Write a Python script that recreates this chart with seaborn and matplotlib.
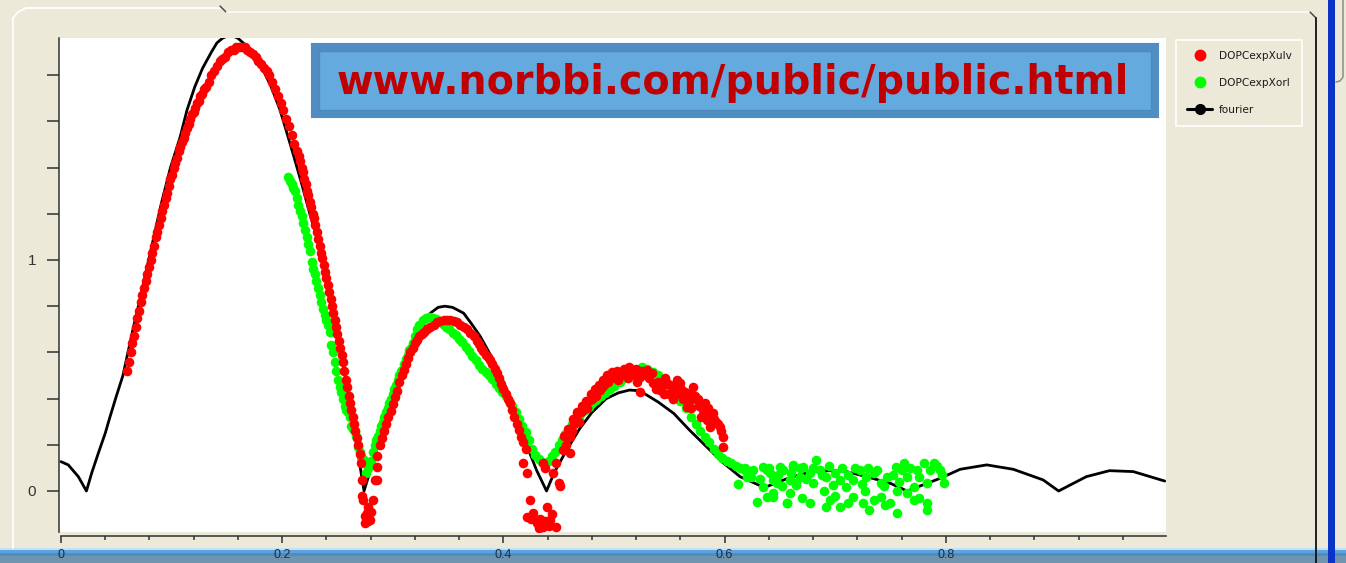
import matplotlib
matplotlib.use("Agg")
import matplotlib.pyplot as plt
import seaborn as sns
from matplotlib.patches import Rectangle
from matplotlib.lines import Line2D

# ---------------- data ----------------
# model curve (fourier), (q, amplitude)
fourier_pts = [
    (0.000, 0.127), (0.0066, 0.113), (0.0157, 0.062), (0.023, 0.0), (0.0277, 0.077),
    (0.0337, 0.163), (0.040, 0.25), (0.044, 0.316), (0.050, 0.41), (0.056, 0.50),
    (0.061, 0.61), (0.066, 0.72), (0.071, 0.82), (0.076, 0.93), (0.083, 1.08),
    (0.091, 1.25), (0.099, 1.40), (0.1076, 1.53), (0.114, 1.65), (0.121, 1.75),
    (0.128, 1.83), (0.136, 1.90), (0.141, 1.94), (0.146, 1.96), (0.153, 1.975),
    (0.160, 1.96), (0.167, 1.93), (0.175, 1.89), (0.183, 1.82), (0.190, 1.75),
    (0.198, 1.65), (0.2055, 1.53), (0.211, 1.44), (0.2176, 1.33), (0.225, 1.20),
    (0.233, 1.07), (0.241, 0.92), (0.248, 0.755), (0.254, 0.58), (0.260, 0.41),
    (0.265, 0.27), (0.269, 0.15), (0.274, 0.0), (0.281, 0.11), (0.288, 0.22),
    (0.298, 0.37), (0.310, 0.54), (0.322, 0.67), (0.334, 0.77), (0.341, 0.795),
    (0.347, 0.80), (0.354, 0.795), (0.364, 0.77), (0.371, 0.725), (0.379, 0.67),
    (0.394, 0.54), (0.403, 0.44), (0.418, 0.235), (0.430, 0.09), (0.439, 0.0),
    (0.446, 0.08), (0.454, 0.15), (0.462, 0.215), (0.469, 0.27), (0.480, 0.34),
    (0.493, 0.40), (0.504, 0.425), (0.514, 0.437), (0.520, 0.435), (0.527, 0.423),
    (0.540, 0.385), (0.554, 0.336), (0.568, 0.265), (0.584, 0.19), (0.598, 0.125),
    (0.614, 0.062), (0.636, 0.015), (0.660, 0.06), (0.680, 0.085), (0.697, 0.088),
    (0.710, 0.084), (0.730, 0.06), (0.750, 0.033), (0.765, 0.0), (0.795, 0.055),
    (0.813, 0.094), (0.837, 0.113), (0.861, 0.094), (0.888, 0.048), (0.902, 0.0),
    (0.927, 0.062), (0.948, 0.088), (0.9695, 0.084), (0.998, 0.043),
]

# DOPCexpXulv measurements
ulv_rise = [
    (0.0600, 0.52), (0.0615, 0.56), (0.0630, 0.60), (0.0645, 0.64), (0.0660, 0.67),
    (0.0675, 0.71), (0.0690, 0.75), (0.0705, 0.78), (0.0720, 0.82), (0.0735, 0.85),
    (0.0750, 0.88), (0.0765, 0.91), (0.0780, 0.94), (0.0795, 0.97), (0.0810, 1.00),
    (0.0825, 1.03), (0.0840, 1.06), (0.0855, 1.10), (0.0870, 1.12), (0.0885, 1.15),
    (0.0900, 1.18), (0.0915, 1.21), (0.0930, 1.24), (0.0945, 1.27), (0.0960, 1.29),
    (0.0975, 1.32), (0.0990, 1.35), (0.1005, 1.37), (0.1020, 1.40), (0.1035, 1.42),
    (0.1050, 1.44), (0.1065, 1.47), (0.1080, 1.49), (0.1095, 1.51), (0.1110, 1.53),
    (0.1125, 1.55), (0.1140, 1.57), (0.1155, 1.59), (0.1170, 1.61), (0.1185, 1.63),
    (0.1200, 1.64), (0.1215, 1.66), (0.1230, 1.68), (0.1245, 1.69), (0.1260, 1.71),
    (0.1275, 1.72), (0.1290, 1.74),
]
ulv_peak = [
    (0.1310, 1.75), (0.1335, 1.77), (0.1360, 1.80), (0.1385, 1.82), (0.1410, 1.84),
    (0.1435, 1.86), (0.1460, 1.87), (0.1485, 1.88), (0.1510, 1.90), (0.1535, 1.91),
    (0.1560, 1.91), (0.1585, 1.92), (0.1610, 1.92), (0.1635, 1.92), (0.1660, 1.92),
    (0.1685, 1.91), (0.1710, 1.90), (0.1735, 1.89), (0.1760, 1.88), (0.1785, 1.86),
    (0.1810, 1.85), (0.1835, 1.83), (0.1860, 1.82), (0.1885, 1.80), (0.1910, 1.77),
    (0.1935, 1.74), (0.1960, 1.71), (0.1985, 1.68), (0.2010, 1.65), (0.2035, 1.61),
    (0.2060, 1.58), (0.2085, 1.54), (0.2110, 1.50), (0.2135, 1.47),
]
ulv_fall = [
    (0.2150, 1.45), (0.21625, 1.43), (0.2175, 1.40), (0.21875, 1.38), (0.2200, 1.35),
    (0.22125, 1.33), (0.2225, 1.30), (0.22375, 1.28), (0.2250, 1.25), (0.22625, 1.23),
    (0.2275, 1.20), (0.22875, 1.18), (0.2300, 1.15), (0.23125, 1.12), (0.2325, 1.09),
    (0.23375, 1.06), (0.2350, 1.03), (0.23625, 1.01), (0.2375, 0.98), (0.23875, 0.95),
    (0.2400, 0.92), (0.24125, 0.89), (0.2425, 0.86), (0.24375, 0.83), (0.2450, 0.80),
    (0.24625, 0.77), (0.2475, 0.74), (0.24875, 0.71), (0.2500, 0.68), (0.25125, 0.65),
    (0.2525, 0.62), (0.25375, 0.59), (0.2550, 0.56), (0.25625, 0.52), (0.2575, 0.48),
    (0.25875, 0.45), (0.2600, 0.41), (0.26125, 0.38), (0.2625, 0.35), (0.26375, 0.32),
    (0.2650, 0.29), (0.26625, 0.26), (0.2675, 0.23), (0.26875, 0.20), (0.2700, 0.16),
    (0.2710, 0.12),
]
ulv_min1 = [
    (0.2719, 0.048), (0.2720, -0.02), (0.2733, -0.039), (0.2750, -0.11), (0.2764, -0.097),
    (0.2775, -0.07), (0.2780, -0.13), (0.2794, -0.126), (0.2800, -0.09), (0.2824, -0.039),
    (0.2840, 0.048), (0.2854, 0.105), (0.2854, 0.048), (0.2745, -0.14),
]
ulv_lobe2 = [
    (0.286, 0.15), (0.288, 0.20), (0.290, 0.23), (0.292, 0.26), (0.294, 0.29),
    (0.296, 0.32), (0.298, 0.345), (0.300, 0.375), (0.302, 0.405), (0.304, 0.435),
    (0.306, 0.47), (0.308, 0.50), (0.310, 0.525), (0.312, 0.55), (0.314, 0.575),
    (0.316, 0.60), (0.318, 0.62), (0.320, 0.64), (0.322, 0.655), (0.324, 0.67),
    (0.326, 0.68), (0.328, 0.69), (0.331, 0.70), (0.334, 0.71), (0.337, 0.72),
    (0.340, 0.73), (0.343, 0.735), (0.346, 0.74), (0.349, 0.74), (0.352, 0.74),
    (0.355, 0.735), (0.358, 0.73), (0.361, 0.72), (0.364, 0.71), (0.367, 0.70),
    (0.370, 0.685), (0.373, 0.67), (0.376, 0.65), (0.378, 0.635), (0.380, 0.62),
    (0.382, 0.605), (0.384, 0.59), (0.386, 0.58), (0.388, 0.565), (0.390, 0.55),
    (0.392, 0.53), (0.394, 0.51), (0.396, 0.49), (0.398, 0.465), (0.400, 0.44),
    (0.402, 0.42), (0.404, 0.40), (0.406, 0.38), (0.408, 0.35), (0.410, 0.32),
    (0.412, 0.29), (0.414, 0.265), (0.416, 0.235), (0.418, 0.21), (0.420, 0.18),
]
ulv_min2 = [
    (0.418, 0.12), (0.421, 0.077), (0.424, -0.039), (0.421, -0.111), (0.425, -0.12),
    (0.427, -0.097), (0.430, -0.14), (0.432, -0.16), (0.433, -0.12), (0.436, -0.155),
    (0.438, -0.13), (0.439, -0.068), (0.441, -0.15), (0.442, -0.126), (0.444, -0.10),
    (0.448, -0.155), (0.436, 0.12), (0.4376, 0.10), (0.445, 0.077), (0.450, 0.033),
    (0.451, 0.02), (0.448, 0.12), (0.454, 0.177), (0.460, 0.163),
]
ulv_lobe3 = [
    (0.457, 0.20), (0.460, 0.235), (0.462, 0.26), (0.464, 0.29), (0.466, 0.32),
    (0.468, 0.30), (0.470, 0.34), (0.472, 0.35), (0.474, 0.37), (0.476, 0.36),
    (0.478, 0.394), (0.480, 0.40), (0.482, 0.42), (0.484, 0.41), (0.487, 0.437),
    (0.489, 0.45), (0.491, 0.46), (0.493, 0.48), (0.495, 0.47), (0.497, 0.49),
    (0.500, 0.50), (0.502, 0.495), (0.504, 0.48), (0.506, 0.51), (0.508, 0.50),
    (0.511, 0.51), (0.513, 0.49), (0.515, 0.52), (0.517, 0.524), (0.519, 0.50),
    (0.521, 0.47), (0.5235, 0.495), (0.5235, 0.43), (0.526, 0.51), (0.5295, 0.524),
    (0.532, 0.49), (0.5355, 0.466), (0.538, 0.44), (0.5416, 0.437), (0.544, 0.46),
    (0.5476, 0.466), (0.550, 0.42), (0.5537, 0.437), (0.556, 0.45), (0.5597, 0.466),
    (0.562, 0.40), (0.5657, 0.365), (0.568, 0.39), (0.5717, 0.45), (0.5747, 0.394),
    (0.577, 0.37), (0.5808, 0.35), (0.5838, 0.307), (0.586, 0.33), (0.587, 0.278),
    (0.5898, 0.336), (0.592, 0.30), (0.5958, 0.278), (0.5988, 0.235), (0.5988, 0.19),
    (0.597, 0.26), (0.560, 0.42), (0.553, 0.40), (0.545, 0.42), (0.566, 0.41),
    (0.570, 0.36), (0.579, 0.32),
    (0.455, 0.24), (0.458, 0.27), (0.463, 0.31), (0.467, 0.34), (0.471, 0.37),
    (0.475, 0.39), (0.479, 0.42), (0.483, 0.44), (0.486, 0.46), (0.490, 0.48),
    (0.494, 0.50), (0.498, 0.515), (0.503, 0.52), (0.509, 0.53), (0.514, 0.535),
    (0.520, 0.53), (0.525, 0.52), (0.531, 0.50), (0.534, 0.51), (0.540, 0.47),
    (0.546, 0.49), (0.551, 0.46), (0.557, 0.48), (0.561, 0.44), (0.564, 0.43),
    (0.569, 0.42), (0.573, 0.41), (0.576, 0.40), (0.582, 0.38), (0.585, 0.36),
    (0.590, 0.31), (0.594, 0.29),
]

# DOPCexpXorl measurements
orl_band = [
    (0.2055, 1.36), (0.2070, 1.34), (0.2085, 1.33), (0.2100, 1.31), (0.2115, 1.30),
    (0.2130, 1.27), (0.2145, 1.24), (0.2160, 1.21), (0.2175, 1.19), (0.2190, 1.16),
    (0.2205, 1.13), (0.2220, 1.10), (0.2235, 1.07), (0.2250, 1.04), (0.2265, 0.99),
    (0.2280, 0.96), (0.2295, 0.94), (0.2310, 0.91), (0.2325, 0.88), (0.2340, 0.85),
    (0.2355, 0.82), (0.2370, 0.79), (0.2385, 0.76), (0.2400, 0.74), (0.2415, 0.72),
    (0.2430, 0.69), (0.2445, 0.63), (0.2460, 0.60), (0.2475, 0.56), (0.2490, 0.52),
    (0.2505, 0.48), (0.2520, 0.45), (0.2535, 0.43), (0.2550, 0.40), (0.2565, 0.37),
    (0.2580, 0.35), (0.2595, 0.34), (0.2610, 0.32), (0.2625, 0.28), (0.2640, 0.27),
    (0.2655, 0.26), (0.2670, 0.24), (0.2685, 0.19), (0.2700, 0.17), (0.2715, 0.15),
    (0.2730, 0.14), (0.2745, 0.13), (0.2760, 0.08), (0.2775, 0.10), (0.2790, 0.12),
    (0.2805, 0.13), (0.2820, 0.17), (0.2835, 0.20), (0.2850, 0.22), (0.2865, 0.24),
    (0.2880, 0.26), (0.2895, 0.28), (0.2910, 0.30), (0.2925, 0.32), (0.2940, 0.34),
    (0.2955, 0.36), (0.2970, 0.38), (0.2985, 0.40), (0.3000, 0.42), (0.3015, 0.44),
    (0.3030, 0.46), (0.3045, 0.48), (0.3060, 0.50), (0.3075, 0.52), (0.3090, 0.53),
    (0.3105, 0.55), (0.3120, 0.57), (0.3135, 0.59), (0.3150, 0.61), (0.3165, 0.62),
    (0.3180, 0.64), (0.3200, 0.67), (0.3220, 0.70), (0.3240, 0.72), (0.3270, 0.74),
    (0.3300, 0.75), (0.3330, 0.755), (0.3360, 0.75), (0.3390, 0.745), (0.3420, 0.735),
    (0.3450, 0.725), (0.3480, 0.71), (0.3510, 0.70), (0.3540, 0.685), (0.3570, 0.675),
    (0.3600, 0.66), (0.3630, 0.645), (0.3660, 0.625), (0.3690, 0.605), (0.3720, 0.585),
    (0.3750, 0.565), (0.3780, 0.545), (0.3810, 0.53), (0.3840, 0.515), (0.3870, 0.50),
    (0.3900, 0.485), (0.3930, 0.465), (0.3960, 0.445), (0.3990, 0.43), (0.4020, 0.41),
    (0.4050, 0.39), (0.4080, 0.37), (0.4110, 0.34), (0.4140, 0.31), (0.4170, 0.28),
    (0.4200, 0.255), (0.4230, 0.22), (0.4260, 0.18), (0.4290, 0.155), (0.4320, 0.14),
    (0.4350, 0.125), (0.4380, 0.12), (0.4410, 0.13), (0.4440, 0.15), (0.4470, 0.17),
    (0.4500, 0.20), (0.4530, 0.22), (0.4560, 0.245), (0.4590, 0.27), (0.4620, 0.29),
    (0.4650, 0.30), (0.4680, 0.32), (0.4710, 0.34), (0.4740, 0.35), (0.4770, 0.365),
    (0.4800, 0.38), (0.4840, 0.395), (0.4880, 0.41), (0.4920, 0.425), (0.4960, 0.44),
    (0.5000, 0.455), (0.5050, 0.47), (0.5100, 0.49), (0.5150, 0.51), (0.5200, 0.525),
    (0.5250, 0.535), (0.5300, 0.53), (0.5350, 0.515), (0.5400, 0.50), (0.5450, 0.47),
    (0.5500, 0.44), (0.5550, 0.42), (0.5600, 0.39), (0.5650, 0.36), (0.5700, 0.32),
    (0.5740, 0.29), (0.5780, 0.26), (0.5820, 0.235), (0.5860, 0.21), (0.5900, 0.18),
    (0.5940, 0.16), (0.5980, 0.145), (0.6020, 0.13), (0.6060, 0.12), (0.6100, 0.11),
    (0.6140, 0.10), (0.6180, 0.09), (0.6220, 0.085),
]
orl_tail = [
    (0.620, 0.062), (0.626, 0.09), (0.629, -0.046), (0.638, 0.09), (0.644, -0.01),
    (0.644, 0.048), (0.650, 0.105), (0.656, -0.053), (0.662, 0.105), (0.665, 0.033),
    (0.635, 0.105), (0.641, 0.077), (0.647, 0.033), (0.638, -0.025), (0.644, -0.025),
    (0.653, 0.091), (0.659, 0.048), (0.662, 0.113), (0.668, 0.062), (0.665, 0.026),
    (0.671, 0.105), (0.677, 0.077), (0.683, 0.134), (0.680, 0.033), (0.686, 0.091),
    (0.692, 0.062), (0.698, 0.026), (0.704, 0.048), (0.710, 0.019), (0.716, 0.048),
    (0.722, 0.091), (0.728, 0.062), (0.735, 0.077), (0.741, 0.033), (0.747, 0.062),
    (0.755, 0.105), (0.762, 0.12), (0.765, 0.062), (0.774, 0.091), (0.780, 0.12),
    (0.789, 0.12), (0.795, 0.091), (0.798, 0.033), (0.783, 0.033), (0.771, 0.019),
    (0.656, -0.053), (0.677, -0.053), (0.695, -0.039), (0.704, -0.068), (0.716, -0.025),
    (0.725, -0.053), (0.735, -0.039), (0.741, -0.025), (0.750, -0.053), (0.756, -0.097),
    (0.771, -0.039), (0.783, -0.053), (0.783, -0.082), (0.731, -0.082), (0.692, -0.068),
    (0.659, -0.010), (0.635, 0.019),
    (0.612, 0.03), (0.618, 0.10), (0.624, 0.06), (0.632, 0.05), (0.640, 0.10),
    (0.648, 0.07), (0.652, 0.02), (0.660, 0.08), (0.668, 0.10), (0.674, 0.05),
    (0.680, 0.10), (0.688, 0.07), (0.694, 0.11), (0.700, 0.08), (0.706, 0.10),
    (0.712, 0.07), (0.718, 0.10), (0.724, 0.03), (0.730, 0.10), (0.738, 0.09),
    (0.744, 0.02), (0.752, 0.07), (0.758, 0.04), (0.760, 0.09), (0.768, 0.10),
    (0.776, 0.06), (0.786, 0.09), (0.792, 0.11), (0.797, 0.07), (0.700, -0.02),
    (0.712, -0.05), (0.745, -0.06), (0.765, -0.01), (0.727, 0.00), (0.690, 0.00),
    (0.670, -0.03), (0.756, 0.00), (0.776, -0.03),
]

ulv_pts = ulv_rise + ulv_peak + ulv_fall + ulv_min1 + ulv_lobe2 + ulv_min2 + ulv_lobe3
orl_pts = orl_band + orl_tail

x_ticks = [0, 0.2, 0.4, 0.6, 0.8]
x_tick_labels = ["0", "0.2", "0.4", "0.6", "0.8"]
y_ticks = [0, 1]
y_tick_labels = ["0", "1"]

series_labels = ["DOPCexpXulv", "DOPCexpXorl", "fourier"]
banner_text = "www.norbbi.com/public/public.html"

# ---------------- styling ----------------
W, H = 1346, 563
BG = "#ECE9D8"
RED = "#FF0000"
GREEN = "#00FF00"

sns.set_theme(style="white")
plt.rcParams["font.family"] = ["Liberation Sans", "DejaVu Sans"]


def fx(x):
    return x / W


def fy(y):
    return 1 - y / H


fig = plt.figure(figsize=(W / 100, H / 100), dpi=100, facecolor=BG)
ax = fig.add_axes([fx(59), fy(532), (1166 - 59) / W, (532 - 38) / H])
ax.set_facecolor("white")

fq, famp = zip(*fourier_pts)
ux, uy = zip(*ulv_pts)
ox, oy = zip(*orl_pts)

sns.lineplot(x=list(fq), y=list(famp), ax=ax, color="black", lw=2.0,
             sort=False, estimator=None, legend=False, zorder=2)
sns.scatterplot(x=list(ox), y=list(oy), ax=ax, color=GREEN, s=48, linewidth=0,
                legend=False, zorder=3)
sns.scatterplot(x=list(ux), y=list(uy), ax=ax, color=RED, s=48, linewidth=0,
                legend=False, zorder=4)

ax.set_xlim(-0.0018, 0.9991)
ax.set_ylim(-0.1775, 1.961)
ax.set_xlabel("")
ax.set_ylabel("")

for side in ("top", "right"):
    ax.spines[side].set_visible(False)
ax.spines["left"].set_color("#303030")
ax.spines["left"].set_linewidth(1.1)
ax.spines["bottom"].set_color("#303030")
ax.spines["bottom"].set_linewidth(1.1)
ax.spines["bottom"].set_position(("outward", 3))
ax.spines["bottom"].set_bounds(0, 0.999)

ax.set_xticks(x_ticks)
ax.set_xticklabels(x_tick_labels)
ax.set_xticks([0.04, 0.08, 0.12, 0.16, 0.24, 0.28, 0.32, 0.36, 0.44, 0.48, 0.52,
               0.56, 0.64, 0.68, 0.72, 0.76, 0.84, 0.88, 0.92, 0.96], minor=True)
ax.set_yticks(y_ticks)
ax.set_yticklabels(y_tick_labels)
ax.set_yticks([0.2, 0.4, 0.6, 0.8, 1.2, 1.4, 1.6, 1.8], minor=True)

ax.tick_params(axis="y", which="both", direction="out", length=8.6, width=1.1,
               color="#303030", pad=8, labelsize=11, labelcolor="#333333", left=True)
ax.tick_params(axis="x", which="major", direction="out", length=5, width=1.1,
               color="#303030", pad=4.5, labelsize=9, labelcolor="#1E2C3A", bottom=True)
ax.tick_params(axis="x", which="minor", direction="out", length=3, width=1.1,
               color="#303030", bottom=True)
ax.grid(False)


def rect(x0, y0, x1, y1, **kw):
    r = Rectangle((fx(x0), fy(y1)), (x1 - x0) / W, (y1 - y0) / H,
                  transform=fig.transFigure, **kw)
    fig.add_artist(r)
    return r


def line(xs, ys, **kw):
    fig.add_artist(Line2D([fx(v) for v in xs], [fy(v) for v in ys],
                          transform=fig.transFigure, **kw))


# window chrome: panel border, scrollbar edge, status strip
line([13, 13, 18, 26, 220], [548, 18, 12, 8, 8], color="white", lw=1.3, zorder=1)
line([220, 226], [6, 12], color="#404040", lw=1.0, zorder=1)
line([227, 1310], [12, 12], color="#FAFAF6", lw=1.3, zorder=1)
line([1310, 1316], [12, 18], color="#404040", lw=1.0, zorder=1)
line([1316, 1316], [18, 563], color="#111111", lw=1.3, zorder=1)
rect(1328, 0, 1335, 563, facecolor="#0B33C6", edgecolor="none", zorder=1)
line([1343, 1343, 1340, 1336], [0, 77, 81, 82], color="#8C8C80", lw=1.1, zorder=1)

rect(0, 548, W, 549.5, facecolor="#C4E0F6", edgecolor="none", zorder=-1)
rect(0, 549.5, W, 553, facecolor="#5DA3DE", edgecolor="none", zorder=-1)
rect(0, 553, W, 556, facecolor="#4F8CC0", edgecolor="none", zorder=-1)
rect(0, 556, W, H, facecolor="#6E94AF", edgecolor="none", zorder=-1)

# banner over the plot
rect(310, 42, 1160, 119, facecolor="#F4F8FC", edgecolor="none", zorder=6)
rect(311, 43, 1159, 118, facecolor="#4F8DC2", edgecolor="none", zorder=6)
rect(319, 51, 1151, 110, facecolor="#64AADF", edgecolor="#4C89BD", lw=1.0, zorder=6)
fig.text(fx(733), fy(83), banner_text, ha="center", va="center", fontsize=28.5,
         fontweight="bold", color="#C00000", family="DejaVu Sans", zorder=7)

# legend
handles = [
    Line2D([], [], ls="none", marker="o", ms=7.5, mfc=RED, mec=RED, label=series_labels[0]),
    Line2D([], [], ls="none", marker="o", ms=7.5, mfc=GREEN, mec=GREEN, label=series_labels[1]),
    Line2D([], [], color="black", lw=2.2, marker="o", ms=7, mfc="black", mec="black",
           label=series_labels[2]),
]
leg = fig.legend(handles=handles, loc="upper left",
                 bbox_to_anchor=(fx(1176), fy(122), 126 / W, 82 / H),
                 bbox_transform=fig.transFigure, mode="expand", borderaxespad=0,
                 prop={"family": "DejaVu Sans", "size": 7.6},
                 labelspacing=1.6, handlelength=2.4, handletextpad=0.6,
                 borderpad=1.05, frameon=True, fancybox=False, numpoints=1,
                 facecolor=BG, edgecolor="white", framealpha=1)
leg.get_frame().set_linewidth(1.2)
for t in leg.get_texts():
    t.set_color("#1A1A1A")

fig.savefig("out.png", dpi=100, facecolor=BG)
